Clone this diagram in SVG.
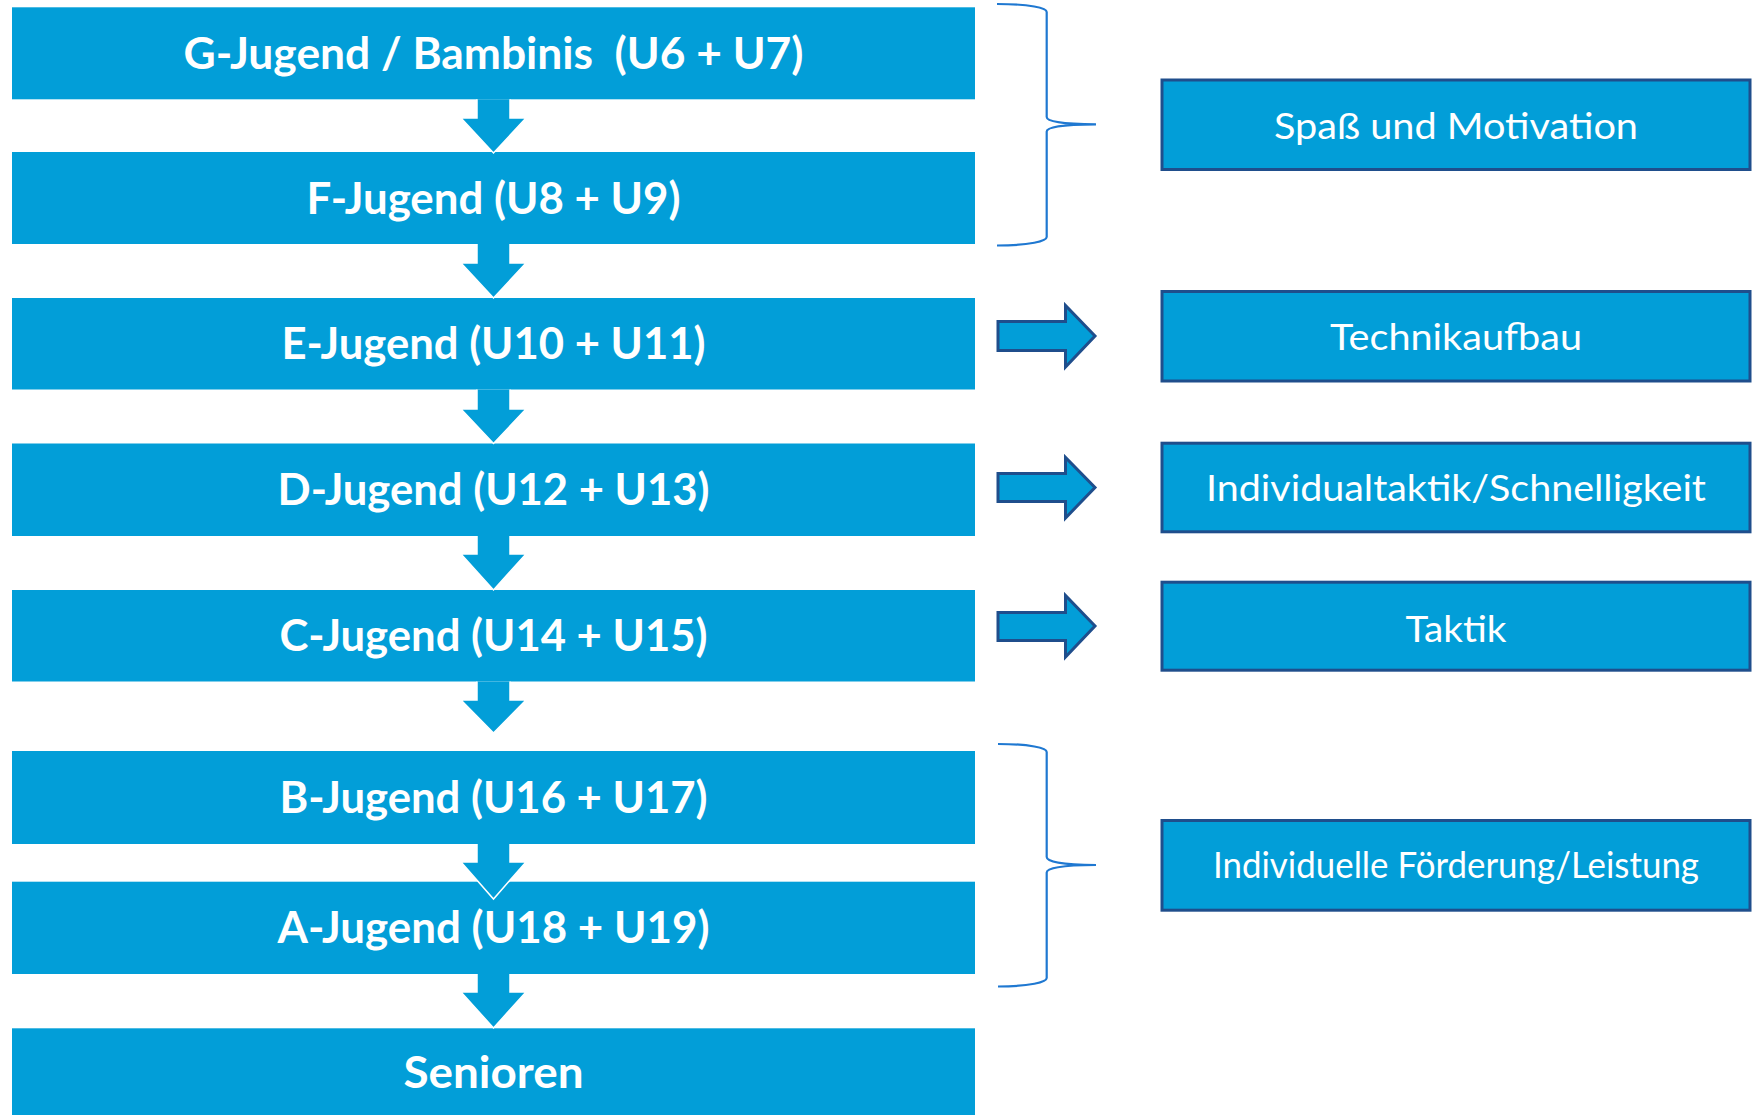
<svg xmlns="http://www.w3.org/2000/svg" width="1753" height="1115" viewBox="0 0 1753 1115">
<style>
.box{fill:#029ED8}
.rbox{fill:#029ED8;stroke:#1F4E8C;stroke-width:3}
.t{font-family:Lato,"Open Sans","Liberation Sans",sans-serif;font-weight:700;font-size:44px;fill:#fff;text-anchor:middle}
.rt{font-family:Lato,"Open Sans","Liberation Sans",sans-serif;font-weight:400;font-size:36px;fill:#fff;text-anchor:middle}
.down{fill:#029ED8;stroke:#fff;stroke-width:1.5}
.right{fill:#029ED8;stroke:#1F4E8C;stroke-width:3;stroke-linejoin:miter}
.brace{fill:none;stroke:#1F78D1;stroke-width:2.2}
</style>
<rect width="1753" height="1115" fill="#fff"/>
<g id="nodes">
<g id="n-g"><rect class="box" x="12" y="7.3" width="963" height="92"/><text class="t" x="493.5" y="68.5" textLength="620" lengthAdjust="spacingAndGlyphs" xml:space="preserve">G-Jugend / Bambinis  (U6 + U7)</text></g>
<g id="n-f"><rect class="box" x="12" y="152" width="963" height="92"/><text class="t" x="493.5" y="213.5" textLength="374" lengthAdjust="spacingAndGlyphs">F-Jugend (U8 + U9)</text></g>
<g id="n-e"><rect class="box" x="12" y="298" width="963" height="91.5"/><text class="t" x="493.5" y="359" textLength="424" lengthAdjust="spacingAndGlyphs">E-Jugend (U10 + U11)</text></g>
<g id="n-d"><rect class="box" x="12" y="443.5" width="963" height="92.5"/><text class="t" x="493.5" y="505" textLength="432" lengthAdjust="spacingAndGlyphs">D-Jugend (U12 + U13)</text></g>
<g id="n-c"><rect class="box" x="12" y="590" width="963" height="91.5"/><text class="t" x="493.5" y="651" textLength="428" lengthAdjust="spacingAndGlyphs">C-Jugend (U14 + U15)</text></g>
<g id="n-b"><rect class="box" x="12" y="751" width="963" height="93"/><text class="t" x="493.5" y="812.5" textLength="428" lengthAdjust="spacingAndGlyphs">B-Jugend (U16 + U17)</text></g>
<g id="n-a"><rect class="box" x="12" y="881.7" width="963" height="92.3"/><text class="t" x="493.5" y="943" textLength="432" lengthAdjust="spacingAndGlyphs">A-Jugend (U18 + U19)</text></g>
<g id="n-s"><rect class="box" x="12" y="1028.3" width="963" height="92"/><text class="t" x="493.5" y="1087.5" textLength="180" lengthAdjust="spacingAndGlyphs">Senioren</text></g>
<g id="r-spass"><rect class="rbox" x="1162" y="80" width="588" height="89.5"/><text class="rt" x="1456" y="138.5" textLength="364" lengthAdjust="spacingAndGlyphs">Spaß und Motivation</text></g>
<g id="r-technik"><rect class="rbox" x="1162" y="291.5" width="588" height="89.5"/><text class="rt" x="1456" y="350" textLength="252" lengthAdjust="spacingAndGlyphs">Technikaufbau</text></g>
<g id="r-indtaktik"><rect class="rbox" x="1162" y="443.2" width="588" height="88.6"/><text class="rt" x="1456" y="501" textLength="500" lengthAdjust="spacingAndGlyphs">Individualtaktik/Schnelligkeit</text></g>
<g id="r-taktik"><rect class="rbox" x="1162" y="582.2" width="588" height="88"/><text class="rt" x="1456" y="641.5" font-size="40" textLength="101" lengthAdjust="spacingAndGlyphs">Taktik</text></g>
<g id="r-foerderung"><rect class="rbox" x="1162" y="820.5" width="588" height="89.7"/><text class="rt" x="1456" y="878" font-size="33" textLength="486" lengthAdjust="spacingAndGlyphs">Individuelle Förderung/Leistung</text></g>
</g>
<g id="connectors">
<path class="down" d="M477,99.3 V118 H461 L493.5,153 L526,118 H510 V99.3"/>
<path class="down" d="M477,244 V263 H461 L493.5,298 L526,263 H510 V244"/>
<path class="down" d="M477,389.5 V409 H461 L493.5,443.5 L526,409 H510 V389.5"/>
<path class="down" d="M477,536 V554 H461 L493.5,590 L526,554 H510 V536"/>
<path class="down" d="M477,681.5 V700 H461 L493.5,733 L526,700 H510 V681.5"/>
<path class="down" d="M477,844 V862 H461 L493.5,899 L526,862 H510 V844"/>
<path class="down" d="M477,974 V992 H461 L493.5,1028 L526,992 H510 V974"/>
<path class="right" d="M998,321.5 H1065.5 V305.5 L1095,336 L1065.5,367 V350.5 H998 Z"/>
<path class="right" d="M998,473.5 H1065.5 V457.5 L1095,487.5 L1065.5,518 V501.5 H998 Z"/>
<path class="right" d="M998,612.5 H1065.5 V595.5 L1095,626 L1065.5,657 V640.5 H998 Z"/>
<path class="brace" d="M997,4 C1030,4 1046.7,8 1046.7,12 L1046.7,117 C1046.7,121 1060,124.3 1096,124.3 C1060,124.3 1046.7,127.5 1046.7,131.5 L1046.7,237 C1046.7,241 1030,245.5 997,245.5"/>
<path class="brace" d="M998,744 C1030,744 1046.7,748 1046.7,752 L1046.7,857 C1046.7,861 1060,865 1096,865 C1060,865 1046.7,868.5 1046.7,872.5 L1046.7,978 C1046.7,982 1030,986.5 998,986.5"/>
</g>
</svg>
